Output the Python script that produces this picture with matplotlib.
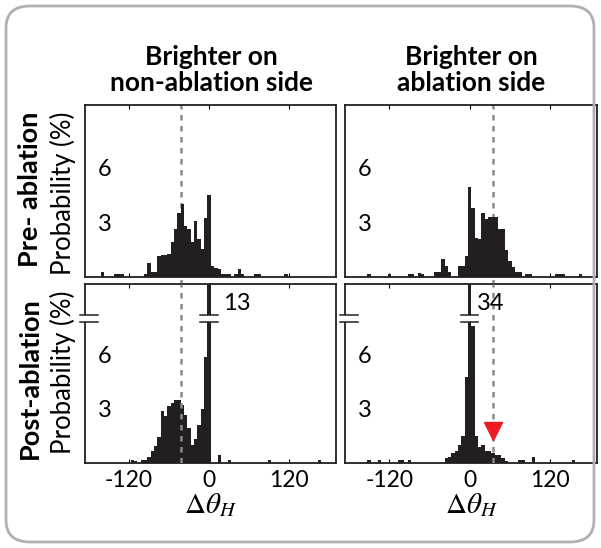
import numpy as np
import matplotlib
matplotlib.use("Agg")
import matplotlib.pyplot as plt
from matplotlib.patches import FancyBboxPatch

plt.rcParams['font.family'] = ['Lato', 'DejaVu Sans']
plt.rcParams['mathtext.fontset'] = 'stix'

# histogram bins (5 deg wide), bin centre -> probability (%)
tl_x = [-160, -140, -135, -130, -95, -90, -85, -80, -75, -70, -65, -60, -55, -50, -45, -40,
        -35, -30, -25, -20, -15, -10, -5, 0, 5, 10, 15, 20, 25, 30, 40, 45, 50, 70, 75, 115]
tl_y = [0.3, 0.15, 0.15, 0.15, 0.15, 0.75, 0.3, 0.3, 1.15, 1.2, 1.2, 1.25, 1.9, 2.6, 3.5, 4.0,
        2.8, 2.6, 1.9, 3.05, 2.05, 1.55, 3.2, 4.5, 0.6, 0.5, 0.45, 0.15, 0.15, 0.15, 0.15, 0.45, 0.15, 0.15, 0.15, 0.15]

tr_x = [-150, -120, -90, -85, -75, -70, -50, -45, -40, -35, -30, -15, -10, -5, 0, 5, 10, 15,
        20, 25, 30, 35, 40, 45, 50, 55, 60, 65, 70, 75, 85, 90, 130, 135, 140, 165]
tr_y = [0.15, 0.15, 0.15, 0.15, 0.2, 0.15, 0.3, 0.3, 1.0, 0.6, 0.3, 0.6, 0.6, 1.15, 4.9, 3.75, 2.15, 2.05,
        3.5, 3.15, 3.3, 3.3, 3.3, 2.6, 2.6, 1.5, 0.9, 0.55, 0.3, 0.3, 0.15, 0.15, 0.15, 0.15, 0.15, 0.15]

bl_x = [-115, -110, -100, -95, -90, -85, -80, -75, -70, -65, -60, -55, -50, -45, -40, -35,
        -30, -25, -20, -15, -10, -5, 0, 15, 30, 90, 165]
bl_y = [0.15, 0.1, 0.15, 0.15, 0.35, 0.67, 0.94, 1.4, 2.87, 2.55, 3.1, 3.3, 3.45, 3.45, 3.2, 2.65,
        1.9, 1.0, 1.3, 2.1, 2.97, 5.8, 13, 0.45, 0.15, 0.15, 0.15]

br_x = [-150, -135, -105, -100, -90, -35, -30, -25, -20, -15, -10, -5, 0, 5, 10, 15, 20,
        25, 30, 35, 40, 45, 50, 55, 75, 80, 95, 155]
br_y = [0.15, 0.15, 0.15, 0.15, 0.15, 0.25, 0.35, 0.56, 0.67, 1.0, 1.5, 4.7, 34, 7.5, 1.5, 0.9, 1.0,
        0.67, 0.67, 0.56, 0.46, 0.46, 0.25, 0.1, 0.15, 0.15, 0.35, 0.15]

peak_labels = ['13', '34']
peak_label_dx = [20, 11]
mean_lines = [-42, 35]
arrow_x, arrow_y = 35.5, 1.75

col_titles = ['Brighter on\nnon-ablation side', 'Brighter on\nablation side']
row_titles = ['Pre- ablation', 'Post-ablation']
xticks = [-120, 0, 120]
xlim = (-186, 190)
break_y = 7.9

W, H = 601, 548
fig = plt.figure(figsize=(W / 100, H / 100), dpi=100)

def px_axes(x0, y0, x1, y1):
    return fig.add_axes([x0 / W, 1 - y1 / H, (x1 - x0) / W, (y1 - y0) / H])

ax_tl = px_axes(85, 105, 336, 277)
ax_tr = px_axes(345, 105, 597, 277)
ax_bl = px_axes(85, 284, 336, 463)
ax_br = px_axes(345, 284, 597, 463)

bar_col = '#231f20'
panels = [(ax_tl, tl_x, tl_y, 9.4, 0), (ax_tr, tr_x, tr_y, 9.4, 1),
          (ax_bl, bl_x, bl_y, 9.8, 0), (ax_br, br_x, br_y, 9.8, 1)]

for ax, xs, ys, top, col in panels:
    ax.bar(xs, ys, width=5, color=bar_col, linewidth=0, zorder=2)
    ax.set_xlim(*xlim)
    ax.set_ylim(0, top)
    ax.set_yticks([])
    ax.set_xticks(xticks)
    ax.tick_params(axis='x', direction='in', length=3, top=True, labelsize=16.5, pad=5)
    for s in ax.spines.values():
        s.set_linewidth(1.3)
        s.set_color(bar_col)
    ax.text(0.05, 5.85, '6', transform=ax.get_yaxis_transform(), fontsize=17, va='center', ha='left')
    ax.text(0.05, 2.85, '3', transform=ax.get_yaxis_transform(), fontsize=17, va='center', ha='left')
    if ax in (ax_tl, ax_tr):
        ax.set_xticklabels([])
        ax.axvline(mean_lines[col], ymin=-0.045, ymax=1, color='#8a8a8a', lw=1.8,
                   ls=(0, (2.2, 2.2)), zorder=1, clip_on=False)
    else:
        ax.set_xticklabels(['-120', '0', '120'])
        ax.axvline(mean_lines[col], color='#8a8a8a', lw=1.8, ls=(0, (2.2, 2.2)), zorder=3)
        ax.set_xlabel(r'$\Delta\theta_H$', fontsize=21, labelpad=0)
        # axis break on the y-axis and on the tallest bar
        peak = xs[int(np.argmax(ys))]
        for x0, x1 in [(xlim[0] - 7, xlim[0] + 20), (peak - 13, peak + 13)]:
            ax.fill_between([x0, x1], break_y - 0.2, break_y + 0.2, color='white',
                            zorder=6, clip_on=False, linewidth=0)
            for yy in (break_y - 0.2, break_y + 0.2):
                ax.plot([x0, x1], [yy, yy], color=bar_col, lw=1.1, zorder=7, clip_on=False)
        ax.text(peak + peak_label_dx[col], 8.75, peak_labels[col], fontsize=17,
                va='center', ha='left', zorder=8)

ax_br.plot(arrow_x, arrow_y, marker='v', color='#ed1c24', markersize=13, zorder=9)

# titles and row labels
fig.text(211 / W, 1 - 70 / H, col_titles[0], ha='center', va='center', fontsize=19,
         fontweight='bold', linespacing=1.1)
fig.text(471 / W, 1 - 70 / H, col_titles[1], ha='center', va='center', fontsize=19,
         fontweight='bold', linespacing=1.1)
fig.text(30 / W, 1 - 189 / H, row_titles[0], rotation=90, ha='center', va='center',
         fontsize=19.5, fontweight='bold')
fig.text(30 / W, 1 - 378 / H, row_titles[1], rotation=90, ha='center', va='center',
         fontsize=19.5, fontweight='bold')
for yc in (193, 372):
    fig.text(63 / W, 1 - yc / H, 'Probability (%)', rotation=90, ha='center', va='center',
             fontsize=18.5)

frame = FancyBboxPatch((6 / W, 6 / H), 588 / W, 536 / H, boxstyle='round,pad=0,rounding_size=0.04',
                       transform=fig.transFigure, fill=False, edgecolor='#b0b0b0', lw=2)
fig.patches.append(frame)

fig.savefig('out.png', dpi=100)
